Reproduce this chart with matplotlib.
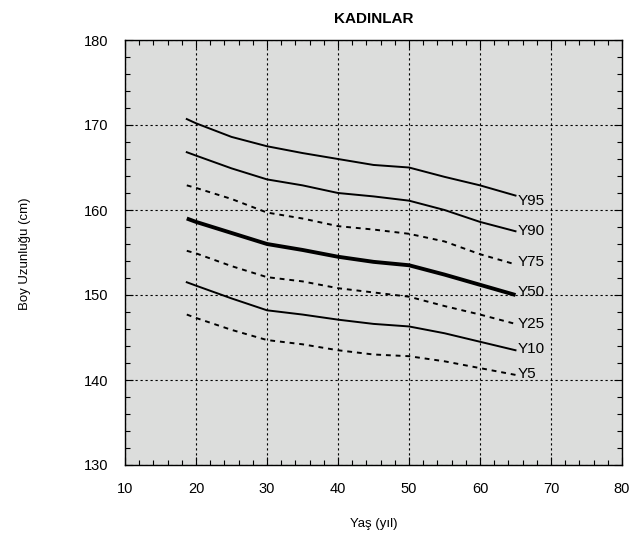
import matplotlib
matplotlib.use('Agg')

import matplotlib.pyplot as plt
from matplotlib.ticker import MultipleLocator

plt.rcParams['font.family'] = ['Liberation Sans', 'DejaVu Sans']

ages = [18.7, 20, 25, 30, 35, 40, 45, 50, 55, 60, 65]

# percentile curves, boy uzunluğu (cm)
y95 = [170.7, 170.2, 168.6, 167.5, 166.7, 166.0, 165.3, 165.0, 163.9, 162.9, 161.7]
y90 = [166.8, 166.4, 164.9, 163.6, 162.9, 162.0, 161.6, 161.1, 160.0, 158.6, 157.5]
y75 = [162.9, 162.6, 161.3, 159.7, 159.0, 158.1, 157.7, 157.2, 156.3, 154.8, 153.6]
y50 = [159.0, 158.6, 157.3, 156.0, 155.3, 154.5, 153.9, 153.5, 152.4, 151.2, 150.0]
y25 = [155.2, 154.9, 153.4, 152.1, 151.6, 150.8, 150.3, 149.8, 148.7, 147.7, 146.6]
y10 = [151.5, 151.1, 149.6, 148.2, 147.7, 147.1, 146.6, 146.3, 145.5, 144.5, 143.5]
y5 = [147.7, 147.3, 145.9, 144.7, 144.2, 143.5, 143.0, 142.8, 142.2, 141.4, 140.6]

curve_names = ['Y95', 'Y90', 'Y75', 'Y50', 'Y25', 'Y10', 'Y5']
curves = [y95, y90, y75, y50, y25, y10, y5]
label_y = [161.1, 157.5, 153.9, 150.4, 146.6, 143.6, 140.7]

fig = plt.figure(figsize=(6.29, 5.44), dpi=100)
ax = fig.add_axes([125/629, 1 - 465/544, 497/629, 425/544])
ax.set_facecolor('#dcdddc')

dashed = (0, (2.5, 2.5))
for name, vals, ly in zip(curve_names, curves, label_y):
    if name == 'Y50':
        ax.plot(ages, vals, color='black', lw=2.8, solid_capstyle='butt',
                solid_joinstyle='round')
    elif name in ('Y75', 'Y25', 'Y5'):
        ax.plot(ages, vals, color='black', lw=1.4, linestyle=dashed)
    else:
        ax.plot(ages, vals, color='black', lw=1.4, solid_joinstyle='round')
    ax.text(65.3, ly, name, fontsize=11, va='center', ha='left')

ax.set_xlim(10, 80)
ax.set_ylim(130, 180)
ax.xaxis.set_major_locator(MultipleLocator(10))
ax.xaxis.set_minor_locator(MultipleLocator(2))
ax.yaxis.set_major_locator(MultipleLocator(10))
ax.yaxis.set_minor_locator(MultipleLocator(2))
ax.tick_params(which='both', direction='in', top=True, right=True,
               labelsize=10.5, pad=12, width=0.8)
ax.tick_params(which='major', length=6)
ax.tick_params(which='minor', length=3.5)
ax.grid(True, which='major', color='black', lw=0.8, linestyle=(0, (2, 2.5)))

for sp in ax.spines.values():
    sp.set_linewidth(1.0)

ax.set_title('KADINLAR', fontsize=11, fontweight='bold', pad=12)
ax.set_xlabel('Yaş (yıl)', fontsize=9.5, va='center')
ax.xaxis.set_label_coords(0.5, -0.139)
ax.set_ylabel('Boy Uzunluğu (cm)', fontsize=9.5, va='center')
ax.yaxis.set_label_coords(-0.201, 0.496)

fig.savefig('out.png', dpi=100)
